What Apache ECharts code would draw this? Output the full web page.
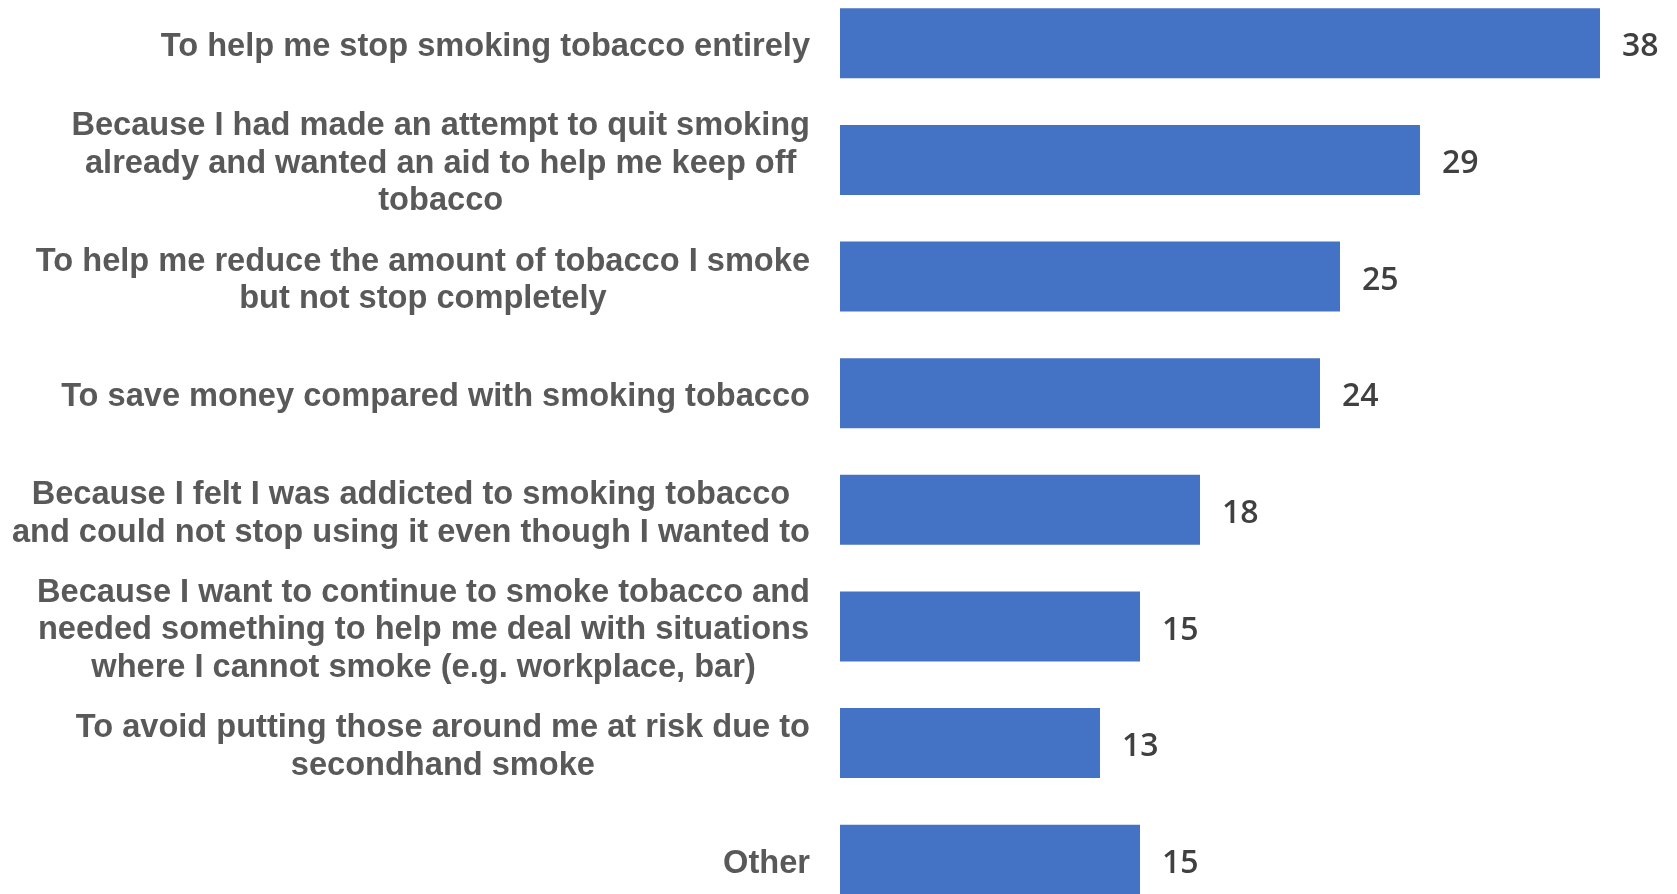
<!DOCTYPE html>
<html>
<head>
<meta charset="utf-8">
<style>
  html, body { margin: 0; padding: 0; background: #fff; overflow: hidden; }
  /* the reference is cropped at top and bottom, so the chart box runs past the window */
  #chart { position: absolute; left: 0; top: -15px; width: 1677px; height: 933px; }
</style>
<script src="https://cdn.jsdelivr.net/npm/echarts@6/dist/echarts.min.js"></script>
</head>
<body>
<div id="chart"></div>
<script>
// categories, top to bottom, with the line breaks used in the picture
const reasons = [
  'To help me stop smoking tobacco entirely',
  'Because I had made an attempt to quit smoking\nalready and wanted an aid to help me keep off\ntobacco',
  'To help me reduce the amount of tobacco I smoke\nbut not stop completely',
  'To save money compared with smoking tobacco',
  'Because I felt I was addicted to smoking tobacco\nand could not stop using it even though I wanted to',
  'Because I want to continue to smoke tobacco and\nneeded something to help me deal with situations\nwhere I cannot smoke (e.g. workplace, bar)',
  'To avoid putting those around me at risk due to\nsecondhand smoke',
  'Other'
];
const percents = [38, 29, 25, 24, 18, 15, 13, 15];

const chart = echarts.init(document.getElementById('chart'), null, { renderer: 'canvas' });

chart.setOption({
  animation: false,
  grid: { left: 840, right: 37, top: 0, bottom: 0, containLabel: false },
  xAxis: {
    type: 'value', min: 0, max: 40, show: false
  },
  yAxis: {
    type: 'category',
    data: reasons,
    inverse: true,
    axisLine: { show: false },
    axisTick: { show: false },
    splitLine: { show: false },
    axisLabel: {
      margin: 30,
      align: 'right',
      padding: [8, 0, 0, 0],
      // center each line inside the right-anchored block
      formatter: v => v.split('\n').map(l => '{c|' + l + '}').join('\n'),
      rich: {
        c: {
          align: 'center',
          fontFamily: '"Liberation Sans", Arial, sans-serif',
          fontWeight: 'bold',
          fontSize: 32.6,
          lineHeight: 37.5,
          color: '#595959'
        }
      }
    }
  },
  series: [{
    type: 'bar',
    data: percents,
    barWidth: 70,
    itemStyle: { color: '#4472C4' },
    label: {
      show: true,
      position: 'right',
      distance: 22,
      offset: [0, 4],
      fontFamily: '"Open Sans", sans-serif',
      fontWeight: 600,
      fontSize: 32,
      color: '#404040'
    }
  }]
});
</script>
</body>
</html>
